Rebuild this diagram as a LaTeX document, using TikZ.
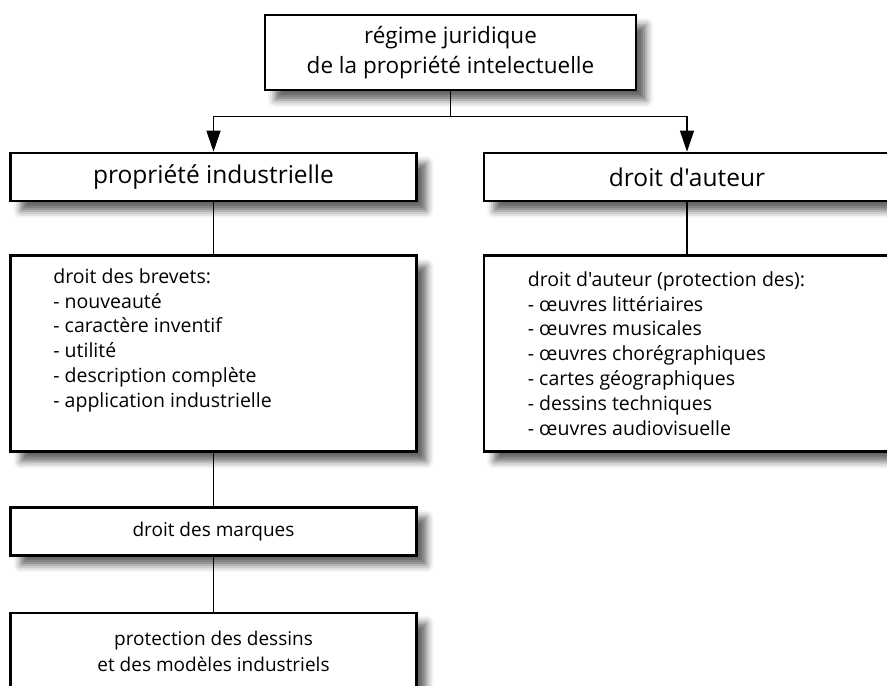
\documentclass[tikz,border=0pt]{standalone}
\usepackage{fontspec}
\setmainfont{Open Sans}[Ligatures=TeXOff]
\usetikzlibrary{arrows.meta,positioning,shadows.blur}

\begin{document}
\begin{tikzpicture}[
    x=1pt, y=-1pt,
    node distance=52pt,
    box/.style={draw, line width=2.6pt, fill=white, align=center, inner sep=0pt,
      blur shadow={shadow xshift=10pt, shadow yshift=-10pt, shadow blur radius=7pt, shadow opacity=60}},
    bigbox/.style={box, minimum width=406pt, minimum height=48pt, font=\fontsize{24.5}{28}\selectfont},
    listbox/.style={box, minimum width=406pt, minimum height=196pt},
    listtext/.style={anchor=north west, align=left, inner sep=0pt, font=\fontsize{19.5}{24.8}\selectfont},
    smallbox/.style={box, minimum width=406pt, font=\fontsize{19}{26}\selectfont},
    link/.style={line width=1.2pt},
    arrow/.style={link, -{Triangle[length=21pt, width=14pt]}}
  ]
    \useasboundingbox (0,0) rectangle (887,686);
    \clip (0,0) rectangle (887,686);
    \node[box, minimum width=371pt, minimum height=75pt, font=\fontsize{22.5}{30}\selectfont] (regime) at (450.5,52.5) {régime juridique\\de la propriété intelectuelle};
    \node[bigbox] (industrie) at (213.5,177) {propriété industrielle};
    \node[bigbox] (auteur) at (687,177) {droit d'auteur};
    \node[listbox, below=of industrie] (brevets) {};
    \node[listbox, below=of auteur] (oeuvres) {};
    \node[listtext] (brevetstxt) at ([xshift=44pt, yshift=-14pt]brevets.north west) {droit des brevets:\\- nouveauté\\- caractère inventif\\- utilité\\- description complète\\- application industrielle};
    \node[listtext] (oeuvrestxt) at ([xshift=45pt, yshift=-17pt]oeuvres.north west) {droit d'auteur (protection des):\\- œuvres littériaires\\- œuvres musicales\\- œuvres chorégraphiques\\- cartes géographiques\\- dessins techniques\\- œuvres audiovisuelle};
    \node[smallbox, minimum height=48pt, below=53pt of brevets] (marques) {droit des marques};
    \node[smallbox, minimum height=77pt, below=55pt of marques] (dessins) {protection des dessins\\et des modèles industriels};
    \coordinate (split) at ([yshift=-25pt]regime.south);
    \draw[link] (regime) -- (split);
    \draw[arrow] (split) -| (industrie);
    \draw[arrow] (split) -| (auteur);
    \draw[link] (industrie) -- (brevets);
    \draw[link] (auteur) -- (oeuvres);
    \draw[link] (brevets) -- (marques);
    \draw[link] (marques) -- (dessins);
  \end{tikzpicture}
\end{document}
